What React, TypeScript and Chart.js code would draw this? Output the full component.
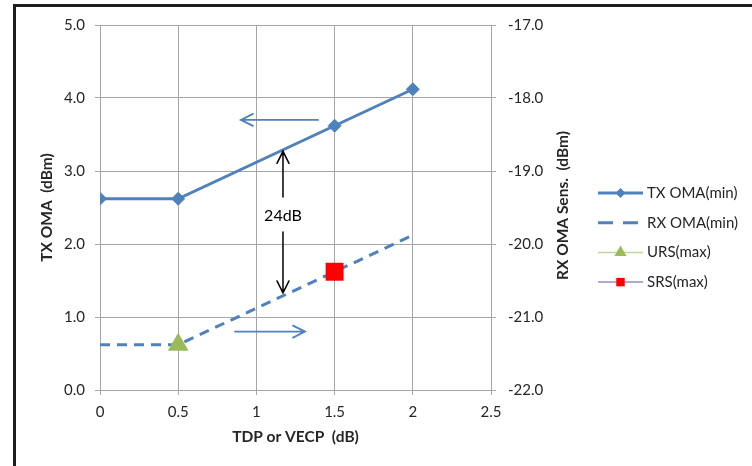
import React, { useEffect, useRef } from 'react';
import { Chart, registerables } from 'chart.js';

Chart.register(...registerables);

// ---- data ----
const txX = [0, 0.5, 1.5, 2];
const txOma = [2.62, 2.62, 3.62, 4.12];
const rxX = [0, 0.5, 2];
const rxOma = [-21.38, -21.38, -19.88];
const ursX = [0.5];
const ursMax = [-21.38];
const srsX = [1.5];
const srsMax = [-20.38];
const seriesNames = ['TX OMA(min)', 'RX OMA(min)', 'URS(max)', 'SRS(max)'];

const xMin = 0, xMax = 2.5, xStep = 0.5;
const yMin = 0, yMax = 5, yStep = 1;
const y2Min = -22, y2Max = -17;

const xTitle = 'TDP or VECP  (dB)';
const yTitle = 'TX OMA  (dBm)';
const y2Title = 'RX OMA Sens.  (dBm)';
const gapLabel = '24dB';

// annotations in data units (x, left-axis y)
const arrowLeft = { x1: 1.394, x2: 0.901, y: 3.70 };
const arrowRight = { x1: 0.863, x2: 1.311, y: 0.80 };
const gapX = 1.17;
const gapUp = { from: 2.644, to: 3.27 };
const gapDown = { from: 2.164, to: 1.33 };
const gapTextY = 2.39;

const BLUE = '#4F81BD';
const GREEN = '#9BBB59';
const RED = '#FF0000';
const PURPLE = '#9F8AB8';
const GRID = '#A6A6A6';
const TEXT = '#262626';
const FONT = 'Lato';

const pts = (xs: number[], ys: number[]) => xs.map((x, i) => ({ x, y: ys[i] }));

function drawArrow(ctx: CanvasRenderingContext2D, x1: number, y1: number, x2: number, y2: number, color: string, width: number, headLen: number, headHalf: number) {
  ctx.save();
  ctx.strokeStyle = color;
  ctx.lineWidth = width;
  ctx.lineCap = 'round';
  ctx.beginPath();
  ctx.moveTo(x1, y1);
  ctx.lineTo(x2, y2);
  const a = Math.atan2(y2 - y1, x2 - x1);
  const bx = x2 - headLen * Math.cos(a);
  const by = y2 - headLen * Math.sin(a);
  const nx = -Math.sin(a) * headHalf;
  const ny = Math.cos(a) * headHalf;
  ctx.moveTo(bx + nx, by + ny);
  ctx.lineTo(x2, y2);
  ctx.lineTo(bx - nx, by - ny);
  ctx.stroke();
  ctx.restore();
}

function marker(ctx: CanvasRenderingContext2D, style: string, x: number, y: number, r: number, color: string) {
  ctx.save();
  ctx.fillStyle = color;
  ctx.beginPath();
  if (style === 'rectRot') {
    ctx.moveTo(x, y - r); ctx.lineTo(x + r, y); ctx.lineTo(x, y + r); ctx.lineTo(x - r, y);
  } else if (style === 'triangle') {
    for (let k = 0; k < 3; k++) {
      const ang = k * 2 * Math.PI / 3;
      const px = x + Math.sin(ang) * r, py = y - Math.cos(ang) * r;
      if (k === 0) ctx.moveTo(px, py); else ctx.lineTo(px, py);
    }
  } else {
    const s = r * Math.SQRT1_2;
    ctx.rect(x - s, y - s, 2 * s, 2 * s);
  }
  ctx.closePath();
  ctx.fill();
  ctx.restore();
}

const overlay = {
  id: 'overlay',
  afterDraw(chart: any) {
    const ctx: CanvasRenderingContext2D = chart.ctx;
    const { chartArea } = chart;
    const xs = chart.scales.x, ys = chart.scales.y;

    // frame
    ctx.save();
    ctx.strokeStyle = '#1E1E1E';
    ctx.lineWidth = 3;
    ctx.beginPath();
    ctx.moveTo(14.5, 466); ctx.lineTo(14.5, 5.5); ctx.lineTo(752, 5.5);
    ctx.stroke();
    ctx.restore();

    // axis titles
    ctx.save();
    ctx.fillStyle = TEXT;
    ctx.font = `bold 15.5px ${FONT}`;
    ctx.textAlign = 'center';
    ctx.textBaseline = 'middle';
    const midY = (chartArea.top + chartArea.bottom) / 2;
    ctx.fillText(xTitle, (chartArea.left + chartArea.right) / 2, chartArea.bottom + 47);
    ctx.save();
    ctx.translate(chartArea.left - 53, midY);
    ctx.rotate(-Math.PI / 2);
    ctx.fillText(yTitle, 0, 0);
    ctx.restore();
    ctx.save();
    ctx.translate(chartArea.right + 72, midY - 2);
    ctx.rotate(-Math.PI / 2);
    ctx.fillText(y2Title, 0, 0);
    ctx.restore();
    ctx.restore();

    // annotations
    drawArrow(ctx, xs.getPixelForValue(arrowLeft.x1), ys.getPixelForValue(arrowLeft.y),
      xs.getPixelForValue(arrowLeft.x2), ys.getPixelForValue(arrowLeft.y), BLUE, 1.8, 12, 6);
    drawArrow(ctx, xs.getPixelForValue(arrowRight.x1), ys.getPixelForValue(arrowRight.y),
      xs.getPixelForValue(arrowRight.x2), ys.getPixelForValue(arrowRight.y), BLUE, 1.8, 12, 6);
    const gx = xs.getPixelForValue(gapX);
    drawArrow(ctx, gx, ys.getPixelForValue(gapUp.from), gx, ys.getPixelForValue(gapUp.to), '#000', 1.5, 12, 6);
    drawArrow(ctx, gx, ys.getPixelForValue(gapDown.from), gx, ys.getPixelForValue(gapDown.to), '#000', 1.5, 12, 6);
    ctx.save();
    ctx.fillStyle = '#000';
    ctx.font = `16px ${FONT}`;
    ctx.textAlign = 'center';
    ctx.textBaseline = 'middle';
    ctx.fillText(gapLabel, gx, ys.getPixelForValue(gapTextY));
    ctx.restore();

    // legend
    const lx1 = chartArea.right + 107, lx2 = chartArea.right + 152;
    const lcx = (lx1 + lx2) / 2;
    chart.data.datasets.forEach((ds: any, i: number) => {
      const ly = 193 + i * 29.7;
      ctx.save();
      ctx.strokeStyle = ds.legendLine;
      ctx.lineWidth = ds.legendWidth;
      if (ds.borderDash && ds.borderDash.length) ctx.setLineDash([15, 10]);
      ctx.beginPath();
      ctx.moveTo(lx1, ly); ctx.lineTo(lx2, ly);
      ctx.stroke();
      ctx.restore();
      if (ds.legendMarker) marker(ctx, ds.legendMarker, lcx, ly, ds.legendMarkerR, ds.pointBackgroundColor);
      ctx.save();
      ctx.fillStyle = TEXT;
      ctx.font = `15px ${FONT}`;
      ctx.textAlign = 'left';
      ctx.textBaseline = 'middle';
      ctx.fillText(ds.label, lx2 + 4, ly);
      ctx.restore();
    });
  },
};

export default function App() {
  const ref = useRef<HTMLCanvasElement>(null);
  useEffect(() => {
    if (!ref.current) return;
    const tickFont = { family: FONT, size: 15 };
    const chart = new Chart(ref.current, {
      type: 'scatter',
      data: {
        datasets: [
          {
            label: seriesNames[0], data: pts(txX, txOma), yAxisID: 'y', showLine: true,
            borderColor: BLUE, backgroundColor: BLUE, borderWidth: 3,
            pointStyle: 'rectRot', pointRadius: 6.5, pointBackgroundColor: BLUE, pointBorderColor: BLUE, pointBorderWidth: 1,
            order: 2, legendLine: BLUE, legendWidth: 3, legendMarker: 'rectRot', legendMarkerR: 5,
          } as any,
          {
            label: seriesNames[1], data: pts(rxX, rxOma), yAxisID: 'y2', showLine: true,
            borderColor: BLUE, backgroundColor: BLUE, borderWidth: 3, borderDash: [10, 7],
            pointRadius: 0, pointBackgroundColor: BLUE,
            order: 3, legendLine: BLUE, legendWidth: 3, legendMarker: null,
          } as any,
          {
            label: seriesNames[2], data: pts(ursX, ursMax), yAxisID: 'y2', showLine: false,
            borderColor: GREEN, backgroundColor: GREEN, borderWidth: 1,
            pointStyle: 'triangle', pointRadius: 12, pointBackgroundColor: GREEN, pointBorderColor: GREEN, pointBorderWidth: 0,
            order: 0, legendLine: '#C3D69B', legendWidth: 1.5, legendMarker: 'triangle', legendMarkerR: 7,
          } as any,
          {
            label: seriesNames[3], data: pts(srsX, srsMax), yAxisID: 'y2', showLine: false,
            borderColor: PURPLE, backgroundColor: RED, borderWidth: 1,
            pointStyle: 'rect', pointRadius: 12.7, pointBackgroundColor: RED, pointBorderColor: RED, pointBorderWidth: 0,
            order: 1, legendLine: PURPLE, legendWidth: 1.5, legendMarker: 'rect', legendMarkerR: 6,
          } as any,
        ],
      },
      options: {
        animation: false,
        responsive: false,
        layout: { padding: { left: 0, top: 25, right: 201, bottom: 0 } },
        plugins: { legend: { display: false }, tooltip: { enabled: false } },
        scales: {
          x: {
            type: 'linear', min: xMin, max: xMax,
            afterFit: (s: any) => { s.height = 76; },
            ticks: { stepSize: xStep, color: TEXT, font: tickFont, padding: 8, callback: (v: any) => String(Number(v)) },
            grid: { color: GRID, tickLength: 5, lineWidth: 1 },
            border: { display: true, color: GRID },
          },
          y: {
            type: 'linear', position: 'left', min: yMin, max: yMax,
            afterFit: (s: any) => { s.width = 100; },
            ticks: { stepSize: yStep, color: TEXT, font: tickFont, padding: 10, callback: (v: any) => Number(v).toFixed(1) },
            grid: { color: GRID, tickLength: 5, lineWidth: 1 },
            border: { display: true, color: GRID },
          },
          y2: {
            type: 'linear', position: 'right', min: y2Min, max: y2Max,
            afterFit: (s: any) => { s.width = 60; },
            ticks: { stepSize: yStep, color: TEXT, font: tickFont, padding: 12, callback: (v: any) => Number(v).toFixed(1) },
            grid: { drawOnChartArea: false, color: GRID, tickLength: 5 },
            border: { display: true, color: GRID },
          },
        },
      },
      plugins: [overlay],
    });
    return () => chart.destroy();
  }, []);
  return (
    <div style={{ position: 'fixed', left: 0, top: 0, width: 752, height: 466, background: '#fff' }}>
      <canvas ref={ref} width={752} height={466} style={{ display: 'block' }} />
    </div>
  );
}
